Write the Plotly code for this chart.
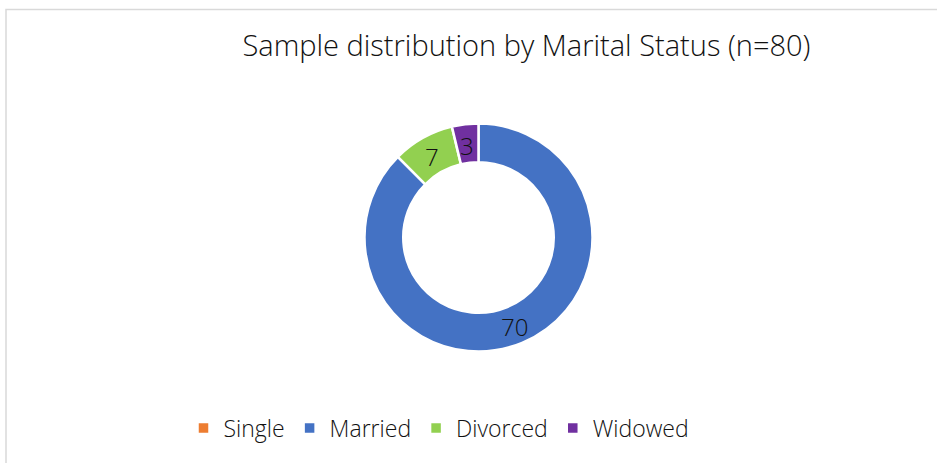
import math
import plotly.graph_objects as go

labels = ["Single", "Married", "Divorced", "Widowed"]
values = [0, 70, 7, 3]
colors = ["#ED7D31", "#4472C4", "#92D050", "#7030A0"]
title_text = "Sample distribution by Marital Status (n=80)"

W, H = 937, 463
FONT = "Open Sans"

# pie geometry (pixels)
CX, CY, R_OUT = 478.5, 237.5, 114
HOLE = 0.66

fig = go.Figure()
fig.add_trace(go.Pie(
    labels=labels,
    values=values,
    sort=False,
    direction="clockwise",
    rotation=0,
    hole=HOLE,
    marker=dict(colors=colors, line=dict(color="white", width=2.5)),
    textinfo="none",
    hoverinfo="label+value",
    domain=dict(x=[(CX - R_OUT) / W, (CX + R_OUT) / W],
                y=[1 - (CY + R_OUT) / H, 1 - (CY - R_OUT) / H]),
))

# data labels at the middle of each ring segment, derived from the values
total = sum(values)
annotations = []
cum = 0
r_mid = R_OUT * (1 + HOLE) / 2
for lab, v in zip(labels, values):
    if v > 0:
        ang = 2 * math.pi * (cum + v / 2) / total
        px = CX + r_mid * math.sin(ang)
        py = CY - r_mid * math.cos(ang) + 2
        annotations.append(dict(text=str(v), x=px / W, y=1 - py / H, xref="paper", yref="paper",
                                showarrow=False, xanchor="center", yanchor="middle",
                                font=dict(family=FONT, size=24, color="#111111", weight=300)))
    cum += v

fig.update_layout(
    width=W, height=H,
    margin=dict(l=0, r=0, t=0, b=0),
    paper_bgcolor="white",
    title=dict(text=title_text, x=526.5 / W, xanchor="center", y=1 - 46 / H, yanchor="middle",
               font=dict(family=FONT, size=29, color="#111111", weight=300)),
    legend=dict(orientation="h", x=439 / W, xanchor="center", y=1 - 428 / H, yanchor="middle",
                font=dict(family=FONT, size=23, color="#111111", weight=300),
                itemwidth=30, traceorder="normal"),
    annotations=annotations,
    shapes=[dict(type="rect", xref="paper", yref="paper", x0=6 / W, x1=1.02, y0=-0.05, y1=1 - 9.5 / H,
                 line=dict(color="#d9d9d9", width=1.5), fillcolor="rgba(0,0,0,0)", layer="below")],
)

fig.write_html("out.html", config={"displayModeBar": False},
               post_script="document.body.style.margin='0';document.body.style.overflow='hidden';")
